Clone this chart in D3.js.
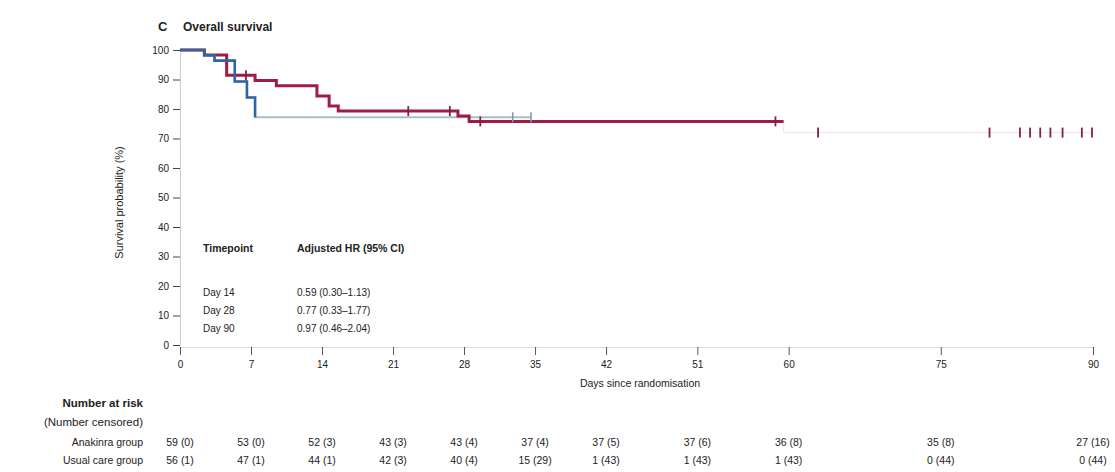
<!DOCTYPE html>
<html>
<head>
<meta charset="utf-8">
<script src="https://cdn.jsdelivr.net/npm/d3@7"></script>
<style>
  html, body { margin: 0; padding: 0; background: #fff; }
  svg { display: block; font-family: "Liberation Sans", Arial, sans-serif; }
</style>
</head>
<body>
<svg id="chart" width="1115" height="472"></svg>
<script>
// ---- data ----
const xTickDays = [0, 7, 14, 21, 28, 35, 42, 51, 60, 75, 90];
const yTickValues = [0, 10, 20, 30, 40, 50, 60, 70, 80, 90, 100];

// Kaplan-Meier steps: time (days) and survival (%) after each event
const anakinraTimes = [0, 2.4, 4.6, 7.4, 9.5, 13.5, 14.7, 15.6, 27.4, 28.5, 59.5, 90];
const anakinraSurv  = [100, 98.3, 91.4, 89.7, 87.9, 84.4, 81.0, 79.3, 77.6, 75.8, 72.0, 72.0];
const anakinraCensored = [6.5, 22.5, 26.6, 29.6, 58.7, 62.9, 79.8, 82.8, 83.8, 84.8, 85.8, 87.0, 88.9, 89.9];

const usualTimes = [0, 2.4, 3.4, 5.4, 6.6, 7.4, 34.6];
const usualSurv  = [100, 98.2, 96.4, 89.3, 83.9, 77.2, 77.2];
const usualCensored = [32.8, 34.6];

const hrTimepoints = ["Day 14", "Day 28", "Day 90"];
const hrValues = ["0.59 (0.30\u20131.13)", "0.77 (0.33\u20131.77)", "0.97 (0.46\u20132.04)"];

const riskGroups = ["Anakinra group", "Usual care group"];
const riskAnakinra = ["59 (0)", "53 (0)", "52 (3)", "43 (3)", "43 (4)", "37 (4)", "37 (5)", "37 (6)", "36 (8)", "35 (8)", "27 (16)"];
const riskUsual    = ["56 (1)", "47 (1)", "44 (1)", "42 (3)", "40 (4)", "15 (29)", "1 (43)", "1 (43)", "1 (43)", "0 (44)", "0 (44)"];

// ---- layout ----
const svg = d3.select("#chart");
const x = d3.scaleLinear().domain([0, 90]).range([180, 1093]);
const y = d3.scaleLinear().domain([0, 100]).range([345, 50]);

const textColor = "#222";
const red = "#9e1c45", redFaint = "#f8e8ee", redCensor = "#85203f";
const blue = "#2c66a4", blueFaint = "#a9bccf", blueCensor = "#8499b0";

// title
svg.append("text").attr("x", 158).attr("y", 31).attr("font-size", 13).attr("font-weight", "bold")
  .attr("fill", textColor).text("C");
svg.append("text").attr("x", 183).attr("y", 31).attr("font-size", 12).attr("font-weight", "bold")
  .attr("fill", textColor).text("Overall survival");

// y axis
const yAxis = svg.append("g").attr("transform", `translate(${x(0)},0)`)
  .call(d3.axisLeft(y).tickValues(yTickValues).tickSize(7).tickPadding(4));
yAxis.select(".domain").attr("stroke", "#ccc");
yAxis.selectAll(".tick line").attr("stroke", "#444");
yAxis.selectAll(".tick text").attr("font-size", 10).attr("fill", textColor)
  .attr("font-family", "Liberation Sans, Arial, sans-serif");

svg.append("text")
  .attr("transform", `translate(123,${(y(0) + y(100)) / 2 + 5}) rotate(-90)`)
  .attr("text-anchor", "middle").attr("font-size", 11).attr("fill", textColor)
  .text("Survival probability (%)");

// x axis
const xAxis = svg.append("g").attr("transform", `translate(0,${y(0) + 2})`)
  .call(d3.axisBottom(x).tickValues(xTickDays).tickSize(8).tickPadding(6));
xAxis.select(".domain").attr("stroke", "#ddd");
xAxis.selectAll(".tick line").attr("stroke", "#555");
xAxis.selectAll(".tick text").attr("font-size", 10).attr("fill", textColor)
  .attr("font-family", "Liberation Sans, Arial, sans-serif");

svg.append("text").attr("x", 640).attr("y", 387).attr("text-anchor", "middle")
  .attr("font-size", 10.5).attr("fill", textColor).text("Days since randomisation");

// ---- survival curves ----
// step path of a KM curve, cut just before the first event at or after `upTo`
function stepPoints(times, surv, upTo) {
  const pts = [];
  for (let i = 0; i < times.length; i++) {
    if (i > 0 && times[i] >= upTo) { pts.push([upTo, surv[i - 1]]); return pts; }
    if (i > 0) pts.push([times[i], surv[i - 1]]);
    pts.push([times[i], surv[i]]);
  }
  return pts;
}
function fullPoints(times, surv) {
  const pts = [];
  for (let i = 0; i < times.length; i++) {
    if (i > 0) pts.push([times[i], surv[i - 1]]);
    pts.push([times[i], surv[i]]);
  }
  return pts;
}
function survAt(times, surv, t) {
  let s = surv[0];
  for (let i = 0; i < times.length; i++) if (times[i] <= t) s = surv[i];
  return s;
}
function lastDropIndex(surv) {
  let k = 0;
  for (let i = 1; i < surv.length; i++) if (surv[i] < surv[i - 1]) k = i;
  return k;
}
const line = d3.line().x(d => x(d[0])).y(d => y(d[1]));

const curves = svg.append("g").attr("fill", "none").attr("stroke-linejoin", "miter");

// usual care tail (after its last event) in a light tone
curves.append("path")
  .attr("d", line(fullPoints(usualTimes, usualSurv)))
  .attr("stroke", blueFaint).attr("stroke-width", 2);

// anakinra: full curve faint, drawn strongly up to its final event
curves.append("path")
  .attr("d", line(fullPoints(anakinraTimes, anakinraSurv)))
  .attr("stroke", redFaint).attr("stroke-width", 1.5);
curves.append("path")
  .attr("d", line(stepPoints(anakinraTimes, anakinraSurv, anakinraTimes[lastDropIndex(anakinraSurv)])))
  .attr("stroke", red).attr("stroke-width", 3);

// usual care steps through its last event
curves.append("path")
  .attr("d", line(fullPoints(usualTimes.slice(0, lastDropIndex(usualSurv) + 1),
                             usualSurv.slice(0, lastDropIndex(usualSurv) + 1))))
  .attr("stroke", blue).attr("stroke-width", 2.6);

// censoring marks
svg.append("g").selectAll("line").data(anakinraCensored).join("line")
  .attr("x1", d => x(d)).attr("x2", d => x(d))
  .attr("y1", d => y(survAt(anakinraTimes, anakinraSurv, d)) - 5)
  .attr("y2", d => y(survAt(anakinraTimes, anakinraSurv, d)) + 5)
  .attr("stroke", redCensor).attr("stroke-width", 1.8);
svg.append("g").selectAll("line").data(usualCensored).join("line")
  .attr("x1", d => x(d)).attr("x2", d => x(d))
  .attr("y1", d => y(survAt(usualTimes, usualSurv, d)) - 5)
  .attr("y2", d => y(survAt(usualTimes, usualSurv, d)) + 5)
  .attr("stroke", blueCensor).attr("stroke-width", 1.6);

// ---- hazard ratio table ----
const hr = svg.append("g").attr("fill", textColor);
hr.append("text").attr("x", 203).attr("y", 252).attr("font-size", 10.5).attr("font-weight", "bold").text("Timepoint");
hr.append("text").attr("x", 297).attr("y", 252).attr("font-size", 10.5).attr("font-weight", "bold").text("Adjusted HR (95% CI)");
hr.selectAll(".tp").data(hrTimepoints).join("text").attr("class", "tp")
  .attr("x", 203).attr("y", (d, i) => 296 + i * 18).attr("font-size", 10).text(d => d);
hr.selectAll(".hv").data(hrValues).join("text").attr("class", "hv")
  .attr("x", 297).attr("y", (d, i) => 296 + i * 18).attr("font-size", 10).text(d => d);

// ---- number at risk ----
const risk = svg.append("g").attr("fill", textColor).attr("font-size", 10.5);
risk.append("text").attr("x", 143).attr("y", 407).attr("text-anchor", "end")
  .attr("font-size", 11.5).attr("font-weight", "bold").text("Number at risk");
risk.append("text").attr("x", 143).attr("y", 426).attr("text-anchor", "end")
  .attr("font-size", 11.5).text("(Number censored)");
risk.selectAll(".grp").data(riskGroups).join("text").attr("class", "grp")
  .attr("x", 143).attr("y", (d, i) => 446 + i * 18).attr("text-anchor", "end").text(d => d);
[riskAnakinra, riskUsual].forEach((row, r) => {
  risk.selectAll(".r" + r).data(row).join("text").attr("class", "r" + r)
    .attr("x", (d, i) => x(xTickDays[i])).attr("y", 446 + r * 18)
    .attr("text-anchor", "middle").text(d => d);
});
</script>
</body>
</html>
